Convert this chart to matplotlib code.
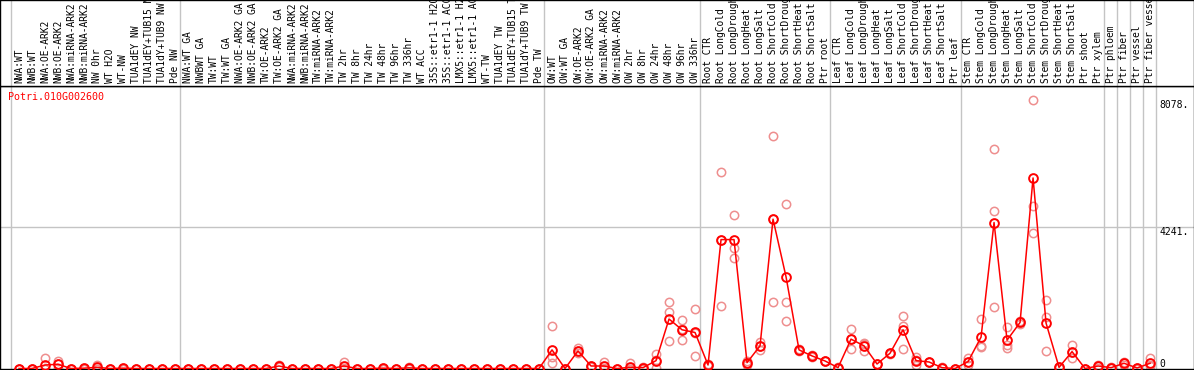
import matplotlib.pyplot as plt
import numpy as np

# sample labels, in column order
labels = [
    "NWA:WT", "NWB:WT", "NWA:OE-ARK2", "NWB:OE-ARK2", "NWA:miRNA-ARK2", "NWB:miRNA-ARK2",
    "NW 0hr", "WT H2O", "WT-NW", "TUA1dEY NW", "TUA1dEY+TUB15 NW", "TUA1dY+TUB9 NW", "Pde NW",
    "NWA:WT GA", "NWBWT GA", "TW:WT", "TW:WT GA", "NWA:OE-ARK2 GA", "NWB:OE-ARK2 GA",
    "TW:OE-ARK2", "TW:OE-ARK2 GA", "NWA:miRNA-ARK2", "NWB:miRNA-ARK2", "TW:miRNA-ARK2",
    "TW:miRNA-ARK2", "TW 2hr", "TW 8hr", "TW 24hr", "TW 48hr", "TW 96hr", "TW 336hr",
    "WT ACC", "35S::etr1-1 H2O", "35S::etr1-1 ACC", "LMX5::etr1-1 H2O", "LMX5::etr1-1 ACC",
    "WT-TW", "TUA1dEY TW", "TUA1dEY+TUB15 TW", "TUA1dY+TUB9 TW", "Pde TW",
    "OW:WT", "OW:WT GA", "OW:OE-ARK2", "OW:OE-ARK2 GA", "OW:miRNA-ARK2", "OW:miRNA-ARK2",
    "OW 2hr", "OW 8hr", "OW 24hr", "OW 48hr", "OW 96hr", "OW 336hr",
    "Root CTR", "Root LongCold", "Root LongDrought", "Root LongHeat", "Root LongSalt",
    "Root ShortCold", "Root ShortDrought", "Root ShortHeat", "Root ShortSalt", "Ptr root",
    "Leaf CTR", "Leaf LongCold", "Leaf LongDrought", "Leaf LongHeat", "Leaf LongSalt",
    "Leaf ShortCold", "Leaf ShortDrought", "Leaf ShortHeat", "Leaf ShortSalt", "Ptr leaf",
    "Stem CTR", "Stem LongCold", "Stem LongDrought", "Stem LongHeat", "Stem LongSalt",
    "Stem ShortCold", "Stem ShortDrought", "Stem ShortHeat", "Stem ShortSalt", "Ptr shoot",
    "Ptr xylem", "Ptr phloem", "Ptr fiber", "Ptr vessel", "Ptr fiber vessel",
]
group_sizes = [13, 28, 12, 10, 10, 11, 1, 1, 1, 1]

means = [
    0, 0, 105, 127, 0, 10, 35, 0, 10, 0, 0, 0, 0,
    0, 0, 0, 0, 0, 0, 0, 75, 0, 0, 0, 0, 75, 0, 0, 10, 0, 20, 0, 0, 0, 0, 0, 0, 0, 0, 0, 0,
    559, 0, 528, 75, 75, 0, 35, 25, 236, 1486, 1163, 1082,
    105, 3872, 3872, 176, 680, 4485, 2754, 559, 378, 226,
    25, 882, 680, 136, 459, 1163, 236, 196, 25, 0,
    206, 942, 4385, 851, 1383, 5723, 1365, 35, 508, 0, 75,
    25, 157, 15, 157,
]
rep1 = [
    0, 0, 330, 226, 0, 0, 105, 0, 30, 0, 0, 0, 0,
    0, 0, 0, 0, 0, 0, 0, 100, 0, 0, 0, 0, 205, 0, 0, 30, 0, 40, 0, 0, 0, 0, 0, 0, 0, 0, 0, 0,
    1262, 0, 610, 90, 205, 0, 157, 60, 438, 2000, 1455, 1788,
    130, 5890, 4605, 230, 810, 6980, 4929, 590, 400, 240,
    40, 1183, 740, 150, 480, 1586, 356, 210, 40, 0,
    306, 1486, 6590, 1244, 1413, 8078, 2069, 60, 710, 0, 120,
    40, 200, 30, 306,
]
rep2 = [
    0, 0, 0, 130, 0, 30, 0, 0, 0, 0, 0, 0, 0,
    0, 0, 0, 0, 0, 0, 0, 75, 0, 0, 0, 0, 20, 0, 0, 0, 0, 20, 0, 0, 0, 0, 0, 0, 0, 0, 0, 0,
    356, 0, 460, 75, 20, 0, 0, 15, 260, 1686, 860, 378,
    105, 1867, 3630, 176, 560, 1988, 1988, 540, 360, 226,
    25, 580, 530, 136, 459, 1262, 105, 196, 25, 0,
    206, 680, 4717, 610, 1330, 4886, 1534, 35, 306, 0, 75,
    25, 157, 15, 100,
]
rep3 = [
    0, 0, 0, 25, 0, 0, 0, 0, 0, 0, 0, 0, 0,
    0, 0, 0, 0, 0, 0, 0, 50, 0, 0, 0, 0, 0, 0, 0, 0, 0, 0, 0, 0, 0, 0, 0, 0, 0, 0, 0, 0,
    157, 0, 515, 60, 0, 0, 0, 0, 10, 830, 1175, 1080,
    80, 3859, 3328, 120, 670, 4487, 1413, 547, 374, 212,
    10, 883, 770, 122, 438, 580, 247, 182, 10, 0,
    106, 660, 1848, 700, 1406, 4083, 528, 10, 508, 0, 30,
    10, 114, 0, 65,
]
ytick_vals = [8078, 4241, 0]
gene = "Potri.010G002600"

mono = "DejaVu Sans Mono"
x = np.arange(len(labels))
bounds = np.concatenate([[0], np.cumsum(group_sizes)]) - 0.58
xlim = (-1.46, 90.38)

fig = plt.figure(figsize=(11.94, 3.70), dpi=100)
ax = fig.add_axes([0, 1 / 370, 1, 283.5 / 370])
hax = fig.add_axes([0, 284.5 / 370, 1, 85.5 / 370])

# header with the rotated sample names (clipped at the top, like the original)
hax.set_xlim(*xlim)
hax.set_ylim(0, 1)
hax.set_xticks([])
hax.set_yticks([])
for b in bounds:
    hax.axvline(b, color="#c4c4c4", lw=1)
for xi, lab in zip(x, labels):
    hax.text(xi, 0.03, lab, rotation=90, ha="center", va="bottom",
             fontsize=6.9, family=mono, clip_on=True)
for s in hax.spines.values():
    s.set_color("black")
    s.set_linewidth(1)

# expression values
ax.set_xlim(*xlim)
ax.set_ylim(-15, 8500)
ax.set_xticks([])
ax.set_yticks([])
for b in bounds:
    ax.axvline(b, color="#c4c4c4", lw=1, zorder=0)
ax.axhline(ytick_vals[1], color="#c4c4c4", lw=1, zorder=0)

for rep in (rep1, rep2, rep3):
    ax.plot(x, rep, linestyle="none", marker="o", ms=6, mfc="none",
            mec="#ee8e8e", mew=1.1, zorder=2)
ax.plot(x, means, color="red", lw=1.1, marker="o", ms=6.3, mfc="none",
        mec="red", mew=1.4, zorder=3)

for v in ytick_vals:
    ax.text(87.7, v, f"{v}." if v else "0", ha="left",
            va="bottom" if v == 0 else "top", fontsize=7, family=mono)

ax.text(0.0067, 0.959, gene, transform=ax.transAxes, color="red",
        fontsize=7.2, family=mono, va="center", ha="left")
for s in ax.spines.values():
    s.set_color("black")
    s.set_linewidth(1)

fig.savefig("out.png", dpi=100)
